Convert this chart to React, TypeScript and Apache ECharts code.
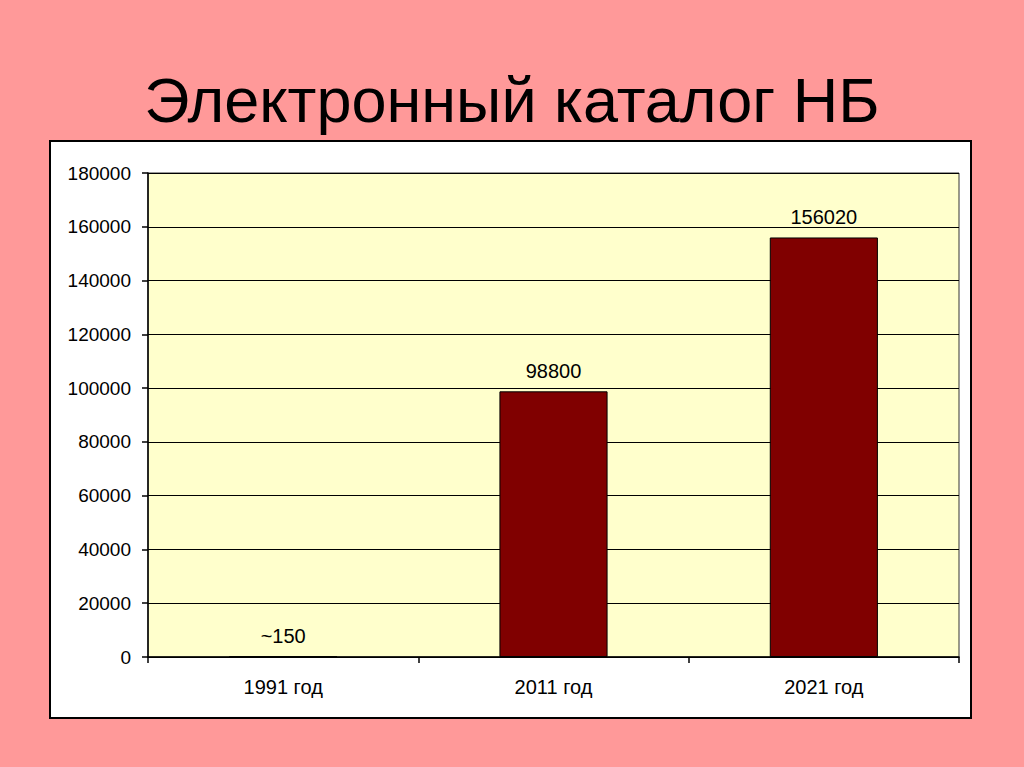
import React, { useEffect, useRef } from "react";
import * as echarts from "echarts";

const categories = ["1991 год", "2011 год", "2021 год"];
const values = [150, 98800, 156020];
const valueLabels = ["~150", "98800", "156020"];
const titleText = "Электронный каталог НБ";

export default function App() {
  const ref = useRef<HTMLDivElement>(null);
  useEffect(() => {
    if (!ref.current) return;
    const chart = echarts.init(ref.current, null, { renderer: "svg" });
    chart.setOption({
      animation: false,
      backgroundColor: "#FF9999",
      textStyle: { fontFamily: "Liberation Sans, Arial, sans-serif" },
      graphic: [
        {
          type: "rect",
          z: -10,
          shape: { x: 50, y: 141, width: 921, height: 577 },
          style: { fill: "#FFFFFF", stroke: "#000000", lineWidth: 2 },
        },
        {
          type: "text",
          x: 512,
          y: 100,
          style: {
            text: titleText,
            fill: "#000000",
            font: "63px 'Liberation Sans', Arial, sans-serif",
            textAlign: "center",
            textVerticalAlign: "middle",
          },
        },
      ],
      grid: {
        left: 148,
        top: 173,
        width: 811,
        height: 484,
        show: true,
        backgroundColor: "#FFFFCC",
        borderColor: "#333333",
        borderWidth: 1,
      },
      xAxis: {
        type: "category",
        data: categories,
        axisLine: { lineStyle: { color: "#000000", width: 1.5 } },
        axisTick: { show: true, length: 6, lineStyle: { color: "#000000", width: 1.5 } },
        axisLabel: { color: "#000000", fontSize: 20, margin: 20 },
      },
      yAxis: {
        type: "value",
        min: 0,
        max: 180000,
        interval: 20000,
        axisLine: { show: true, lineStyle: { color: "#000000", width: 1.5 } },
        axisTick: { show: true, length: 6, lineStyle: { color: "#000000", width: 1.5 } },
        axisLabel: {
          color: "#000000",
          fontSize: 19,
          margin: 17,
          formatter: (v: number) => String(v),
        },
        splitLine: { show: true, lineStyle: { color: "#000000", width: 1 } },
      },
      series: [
        {
          type: "bar",
          data: values,
          barWidth: "40%",
          itemStyle: { color: "#800000", borderColor: "#000000", borderWidth: 1 },
          label: {
            show: true,
            position: "top",
            distance: 10,
            color: "#000000",
            fontSize: 20,
            formatter: (p: any) => valueLabels[p.dataIndex],
          },
        },
      ],
    });
    return () => chart.dispose();
  }, []);
  return (
    <div
      ref={ref}
      style={{ position: "fixed", left: 0, top: 0, width: 1024, height: 767 }}
    />
  );
}
